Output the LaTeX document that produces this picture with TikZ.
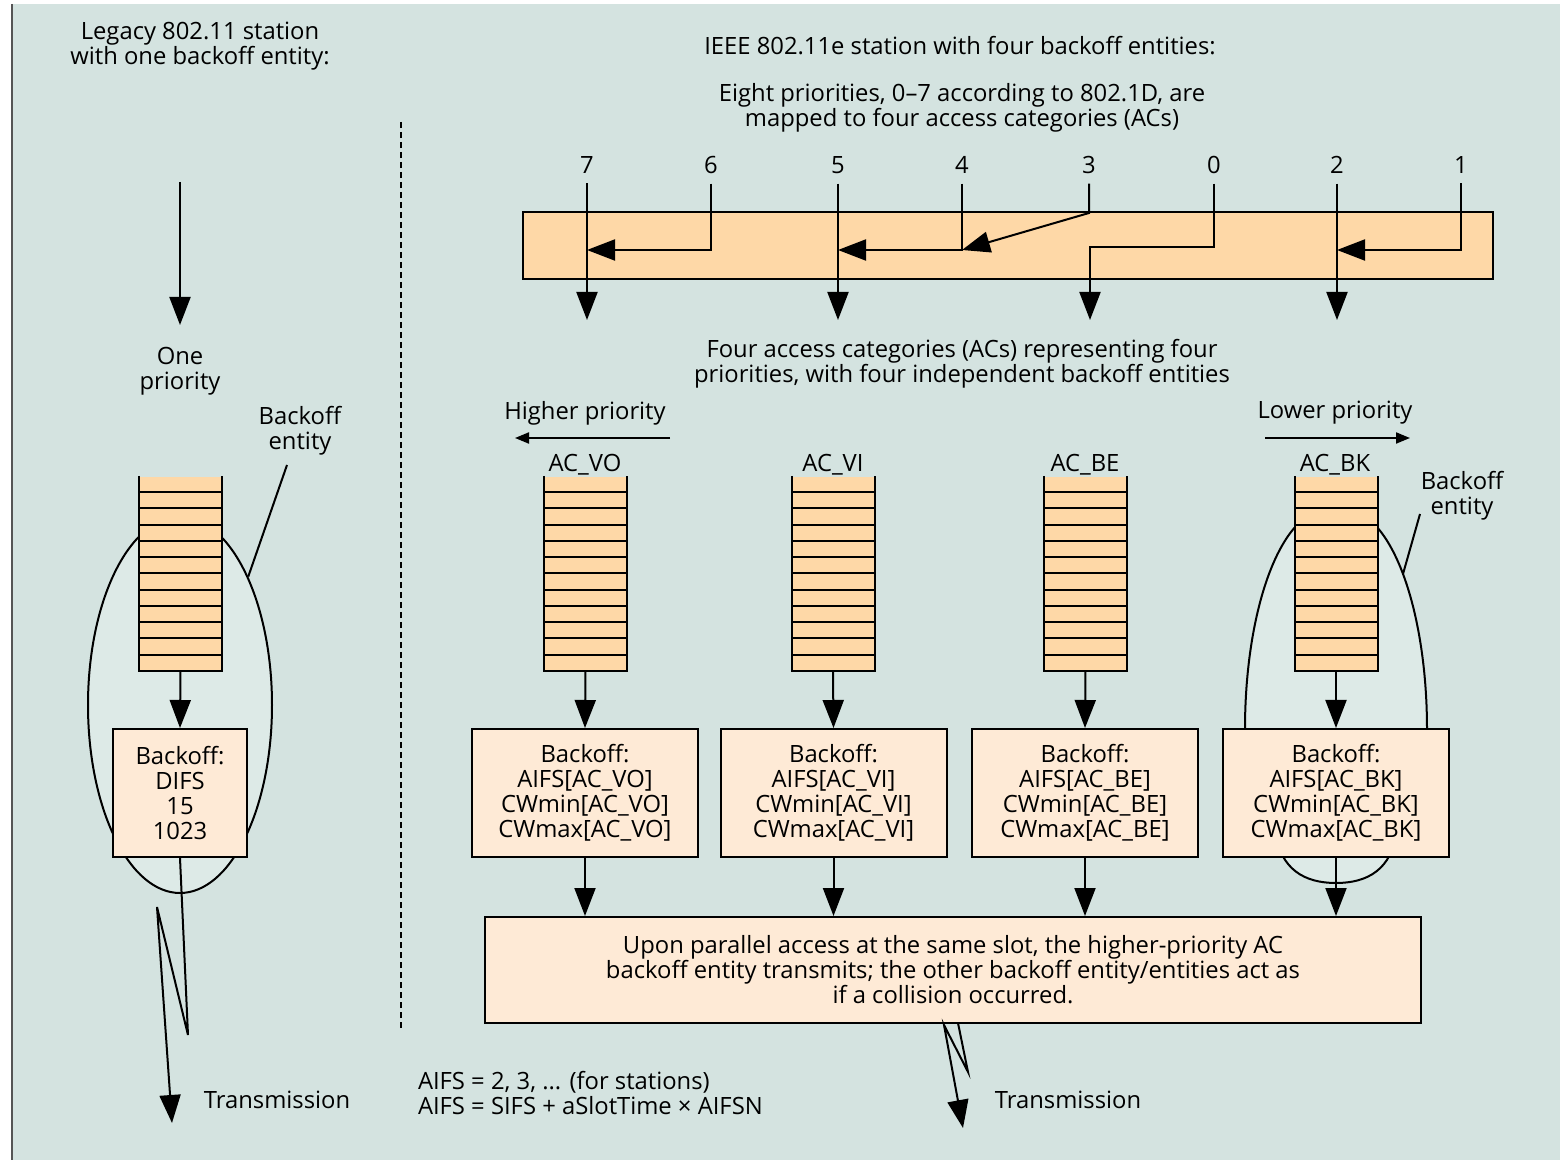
\documentclass[tikz,border=0pt]{standalone}
\usepackage{fontspec}
\setmainfont{Open Sans}
\usetikzlibrary{arrows.meta,shapes.geometric,calc}
\definecolor{bg}{HTML}{D4E3E0}
\definecolor{qfill}{HTML}{FED8A7}
\definecolor{bfill}{HTML}{FEEAD6}
\definecolor{efill}{HTML}{DDEAE7}
\definecolor{edge}{HTML}{555555}
\tikzset{
  txt/.style={align=center, inner sep=0pt},
  num/.style={inner xsep=0pt, inner ysep=4.5pt},
  arr/.style={-{Triangle[length=14pt,width=10.5pt]}},
  sarr/.style={-{Triangle[length=7pt,width=5.5pt]}},
  queue/.style={fill=qfill, draw=none, minimum width=40.5pt, minimum height=96.5pt, inner sep=0pt},
  bbox/.style={draw, fill=bfill, minimum width=113pt, minimum height=64pt, align=center, inner sep=0pt},
  entity/.style={draw, fill=efill},
}
\newcommand\myqueue[2]{%
  \node[queue] (#1) at (#2,573.5) {};
  \draw (#1.north west) -- (#1.south west) -- (#1.south east) -- (#1.north east);
  \foreach \i in {1,...,11}
    \draw ($(#1.north west)!\i/12!(#1.south west)$) -- ($(#1.north east)!\i/12!(#1.south east)$);
}
\begin{document}
\begin{tikzpicture}[x=0.5pt,y=-0.5pt,line width=1pt,font=\fontsize{11.9}{12.5}\selectfont]
\useasboundingbox (0,0) rectangle (1560,1160);
\fill[bg] (12,4) rectangle (1560,1160);
\draw[edge,line width=1.2pt] (12,4) -- (12,1160);

% ---------- left part ----------
\node[txt] (ltitle) at (200,46) {Legacy 802.11 station\\with one backoff entity:};
\coordinate (lin) at (180,182);
\coordinate (lintip) at (180,325);
\draw[arr] (lin) -- (lintip);
\node[txt] (onep) at (180,371) {One\\priority};
\node[ellipse, entity, minimum width=92pt, minimum height=188pt, inner sep=0pt] (lent) at (180,705) {};
\node[txt] (lbel) at (300,431) {Backoff\\entity};
\coordinate (lbelEnd) at (287,465);
\draw (lbelEnd) -- (lent.62);
\myqueue{qL}{180.5}
\node[bbox, minimum width=67pt] (bL) at (180,793) {Backoff:\\DIFS\\15\\1023};
\draw[arr] (qL.south) -- (bL.north);
\coordinate (lz1) at (188,1035);
\coordinate (lz2) at (157,907);
\coordinate (ltip) at (172,1123);
\draw[arr] (bL.south) -- (lz1) -- (lz2) -- (ltip);
\node[txt] (ltrans) at (277,1100) {Transmission};

% dashed separator
\coordinate (sepA) at (401,122);
\coordinate (sepB) at (401,1030);
\draw[line width=0.9pt, dash pattern=on 3pt off 2pt] (sepA) -- (sepB);

% ---------- right part ----------
\node[txt] (rtitle) at (960,46) {IEEE 802.11e station with four backoff entities:};
\node[txt] (eight) at (962,108) {Eight priorities, 0–7 according to 802.1D, are\\mapped to four access categories (ACs)};

\node[draw, fill=qfill, minimum width=485pt, minimum height=33.5pt, inner sep=0pt] (map) at (1008,245.5) {};

\node[num] (p7) at (587,165) {7};
\node[num] (p6) at (711,165) {6};
\node[num] (p5) at (838,165) {5};
\node[num] (p4) at (962,165) {4};
\node[num] (p3) at (1089,165) {3};
\node[num] (p0) at (1214,165) {0};
\node[num] (p2) at (1337,165) {2};
\node[num] (p1) at (1461,165) {1};

\coordinate (o7) at (587,320);
\coordinate (o5) at (838,320);
\coordinate (o3) at (1090,320);
\coordinate (o2) at (1337,320);
\coordinate (m6) at (711,250);
\coordinate (m4) at (962,250);
\coordinate (m3) at (1089,213);
\coordinate (m0) at (1214,247);
\coordinate (m0b) at (1090,247);
\coordinate (m1) at (1461,250);

\draw[arr] (p7.south) -- (o7);
\draw[arr] (p5.south) -- (o5);
\draw[arr] (p2.south) -- (o2);
\draw[arr] (p6.south) -- (m6) -- (m6 -| p7);
\draw[arr] (p4.south) -- (m4) -- (m4 -| p5);
\draw[arr] (p3.south) -- (m3) -- (m4);
\draw[arr] (p0.south) -- (m0) -- (m0b) -- (o3);
\draw[arr] (p1.south) -- (m1) -- (m1 -| p2);

\node[txt] (four) at (962,364) {Four access categories (ACs) representing four\\priorities, with four independent backoff entities};

\node[txt] (hp) at (585,413) {Higher priority};
\node[txt] (lp) at (1335,413) {Lower priority};
\coordinate (hpA) at (670,438);
\coordinate (hpB) at (515,438);
\coordinate (lpA) at (1265,438);
\coordinate (lpB) at (1410,438);
\draw[sarr] (hpA) -- (hpB);
\draw[sarr] (lpA) -- (lpB);

% backoff entity of AC_BK
\path[entity] (1296,526) .. controls (1265,560) and (1245,640) .. (1245,729)
  -- (1275,830) .. controls (1280,870) and (1305,883) .. (1336,883)
  .. controls (1367,883) and (1392,870) .. (1397,830)
  -- (1427,729) .. controls (1427,640) and (1407,560) .. (1376,526) -- cycle;
\node[txt] (rbel) at (1462,496) {Backoff\\entity};
\coordinate (rbelEnd) at (1420,514);
\coordinate (rbelOn) at (1403,574);
\draw (rbelEnd) -- (rbelOn);

\node[txt] (aVO) at (585,465) {AC\_VO};
\node[txt] (aVI) at (833,465) {AC\_VI};
\node[txt] (aBE) at (1085,465) {AC\_BE};
\node[txt] (aBK) at (1335,465) {AC\_BK};

\myqueue{qVO}{585.5}
\myqueue{qVI}{833}
\myqueue{qBE}{1085.5}
\myqueue{qBK}{1336}

\node[bbox] (bVO) at (585,793) {Backoff:\\AIFS[AC\_VO]\\CWmin[AC\_VO]\\CWmax[AC\_VO]};
\node[bbox] (bVI) at (833.5,793) {Backoff:\\AIFS[AC\_VI]\\CWmin[AC\_VI]\\CWmax[AC\_VI]};
\node[bbox] (bBE) at (1085,793) {Backoff:\\AIFS[AC\_BE]\\CWmin[AC\_BE]\\CWmax[AC\_BE]};
\node[bbox] (bBK) at (1336,793) {Backoff:\\AIFS[AC\_BK]\\CWmin[AC\_BK]\\CWmax[AC\_BK]};

\foreach \q/\b in {qVO/bVO,qVI/bVI,qBE/bBE,qBK/bBK}
  \draw[arr] (\q.south) -- (\b.north);

\node[draw, fill=bfill, minimum width=468pt, minimum height=53pt, align=center, inner sep=0pt] (big) at (953,970)
  {Upon parallel access at the same slot, the higher-priority AC\\backoff entity transmits; the other backoff entity/entities act as\\if a collision occurred.};

\foreach \b in {bVO,bVI,bBE,bBK}
  \draw[arr] (\b.south) -- (\b.south |- big.north);

\coordinate (rz0) at (958,1023);
\coordinate (rz1) at (968,1072);
\coordinate (rz2) at (944,1025);
\coordinate (rtip) at (963,1128);
\draw[arr] (rz0) -- (rz1) -- (rz2) -- (rtip);
\node[txt] (rtrans) at (1068,1100) {Transmission};

\node[txt, align=left, anchor=west] (aifs) at (417,1093) {AIFS = 2, 3, ... (for stations)\\AIFS = SIFS + aSlotTime × AIFSN};
\end{tikzpicture}
\end{document}
